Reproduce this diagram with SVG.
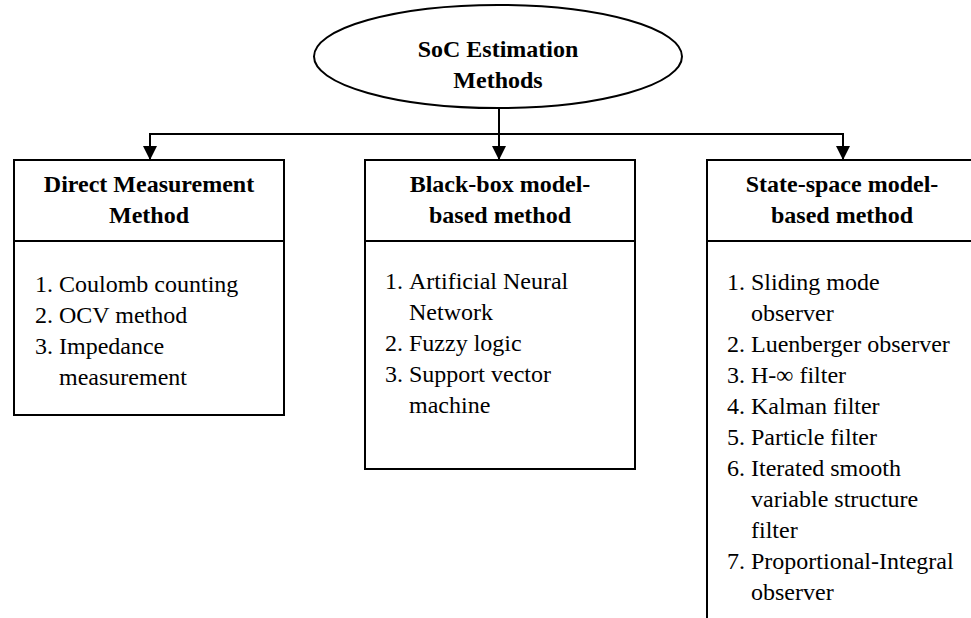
<svg xmlns="http://www.w3.org/2000/svg" width="971" height="618" viewBox="0 0 971 618">
<style>
.shape{fill:#fff;stroke:#000;stroke-width:2}
.line{fill:none;stroke:#000;stroke-width:2}
.h{font-family:"Liberation Serif","Times New Roman",serif;font-size:24px;font-weight:bold;text-anchor:middle;fill:#000}
.t{font-family:"Liberation Serif","Times New Roman",serif;font-size:24px;fill:#000}
</style>
<defs>
<marker id="arr" viewBox="0 0 14 14" refX="14" refY="7" markerWidth="14" markerHeight="14" markerUnits="userSpaceOnUse" orient="auto">
<path d="M0,0 L14,7 L0,14 Z" fill="#000"/>
</marker>
</defs>
<rect width="971" height="618" fill="#fff"/>
<g id="connectors">
<line class="line" x1="499" y1="108" x2="499" y2="160" marker-end="url(#arr)"/>
<line class="line" x1="149" y1="134" x2="844" y2="134"/>
<line class="line" x1="150" y1="134" x2="150" y2="160" marker-end="url(#arr)"/>
<line class="line" x1="843" y1="134" x2="843" y2="160" marker-end="url(#arr)"/>
</g>
<g id="root">
<ellipse class="shape" cx="498" cy="56.5" rx="184" ry="51.5"/>
<text class="h" x="498" y="57">SoC Estimation</text>
<text class="h" x="498" y="88">Methods</text>
</g>
<g id="direct">
<rect class="shape" x="14" y="160" width="270" height="255"/>
<line class="line" x1="14" y1="241" x2="284" y2="241"/>
<text class="h" x="149" y="192">Direct Measurement</text>
<text class="h" x="149" y="223">Method</text>
<text class="t" x="35" y="292">1.</text><text class="t" x="59" y="292">Coulomb counting</text>
<text class="t" x="35" y="323">2.</text><text class="t" x="59" y="323">OCV method</text>
<text class="t" x="35" y="354">3.</text><text class="t" x="59" y="354">Impedance</text>
<text class="t" x="59" y="385">measurement</text>
</g>
<g id="blackbox">
<rect class="shape" x="365" y="160" width="270" height="309"/>
<line class="line" x1="365" y1="241" x2="635" y2="241"/>
<text class="h" x="500" y="192">Black-box model-</text>
<text class="h" x="500" y="223">based method</text>
<text class="t" x="385" y="289">1.</text><text class="t" x="409" y="289">Artificial Neural</text>
<text class="t" x="409" y="320">Network</text>
<text class="t" x="385" y="351">2.</text><text class="t" x="409" y="351">Fuzzy logic</text>
<text class="t" x="385" y="382">3.</text><text class="t" x="409" y="382">Support vector</text>
<text class="t" x="409" y="413">machine</text>
</g>
<g id="statespace">
<rect class="shape" x="707" y="160" width="280" height="480"/>
<line class="line" x1="707" y1="241" x2="971" y2="241"/>
<text class="h" x="842" y="192">State-space model-</text>
<text class="h" x="842" y="223">based method</text>
<text class="t" x="727" y="290">1.</text><text class="t" x="751" y="290">Sliding mode</text>
<text class="t" x="751" y="321">observer</text>
<text class="t" x="727" y="352">2.</text><text class="t" x="751" y="352">Luenberger observer</text>
<text class="t" x="727" y="383">3.</text><text class="t" x="751" y="383">H-∞ filter</text>
<text class="t" x="727" y="414">4.</text><text class="t" x="751" y="414">Kalman filter</text>
<text class="t" x="727" y="445">5.</text><text class="t" x="751" y="445">Particle filter</text>
<text class="t" x="727" y="476">6.</text><text class="t" x="751" y="476">Iterated smooth</text>
<text class="t" x="751" y="507">variable structure</text>
<text class="t" x="751" y="538">filter</text>
<text class="t" x="727" y="569">7.</text><text class="t" x="751" y="569">Proportional-Integral</text>
<text class="t" x="751" y="600">observer</text>
</g>
</svg>
